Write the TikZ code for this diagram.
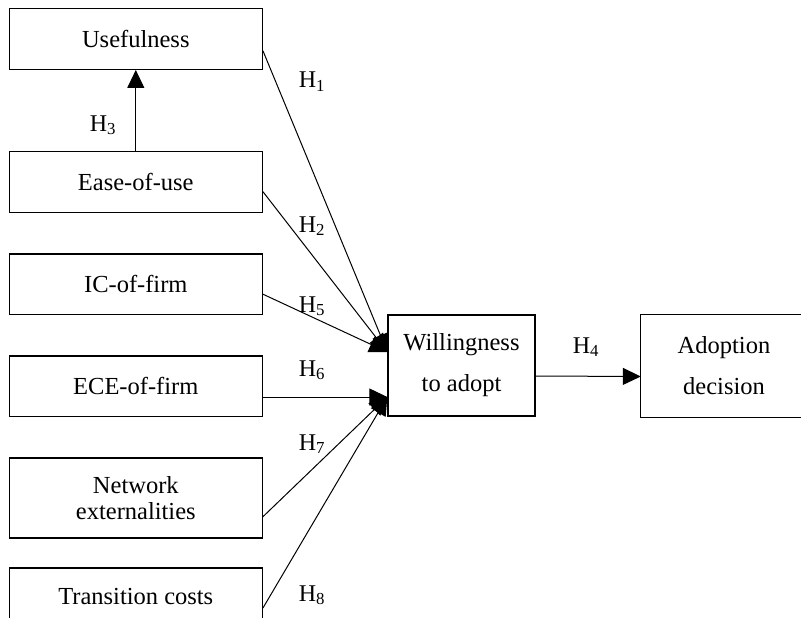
\documentclass[tikz,border=0pt]{standalone}
\usepackage{fontspec}
\setmainfont{Liberation Serif}
\usetikzlibrary{arrows.meta}
\tikzset{
  box/.style={draw, line width=1.3pt, minimum width=253pt, inner sep=0pt, align=center,
    font=\fontsize{24.5}{26}\selectfont},
  openbox/.style={line width=1.3pt},
  txt/.style={inner sep=0pt, align=center, font=\fontsize{24.5}{41}\selectfont},
  lbl/.style={anchor=base, inner sep=0pt, font=\fontsize{24}{26}\selectfont},
  arr/.style={line width=1pt, -{Triangle[length=18pt,width=17pt]}},
}
\begin{document}
\begin{tikzpicture}[x=1pt,y=-1pt]
\useasboundingbox (0,0) rectangle (801,618);
\clip (0,0) rectangle (801,618);
\fill[white] (0,0) rectangle (801,618);
% left column
\node[box, minimum height=61pt] (use) at (135.8,38.8) {Usefulness};
\node[box, minimum height=60.6pt] (ease) at (135.8,182) {Ease-of-use};
\node[box, minimum height=60.3pt] (ic) at (135.8,284.2) {IC-of-firm};
\node[box, minimum height=60.7pt] (ece) at (135.8,386.4) {ECE-of-firm};
\node[box, minimum height=80pt] (net) at (135.8,498) {Network\\externalities};
\node[box, minimum height=70pt] (tra) at (135.8,603) {\raisebox{14pt}{Transition costs}};
% right boxes
\node[box, minimum width=147pt, minimum height=101pt, font=\fontsize{24.5}{41}\selectfont] (wil) at (461.5,365.5) {Willingness\\to adopt};
\node[txt, minimum width=166pt, minimum height=102pt] (ado) at (724,366) {Adoption\\decision};
\draw[openbox] ([xshift=20pt]ado.north east) -- (ado.north west) -- (ado.south west) -- ([xshift=20pt]ado.south east);
% arrow targets
\coordinate (tipA) at ([yshift=13.5pt]wil.west);
\coordinate (tipB) at ([yshift=-31.5pt]wil.west);
% connectors
\draw[arr] (ease.north) -- (use.south);
\draw[arr] ([yshift=-12pt]use.east) -- (tipA);
\draw[arr] ([yshift=-9.7pt]ease.east) -- (tipA);
\draw[arr] ([yshift=-10pt]ic.east) -- (tipA);
\draw[arr] ([yshift=-10.6pt]ece.east) -- (tipB);
\draw[arr] ([yshift=-18.7pt]net.east) -- (tipB);
\draw[arr] ([yshift=-5pt]tra.east) -- (tipB);
\draw[arr] ([yshift=-10.5pt]wil.east) -- ([yshift=-10.5pt]ado.west);
% labels
\node[lbl] (h3) at (103,131) {H\textsubscript{3}};
\node[lbl] (h1) at (312,87.5) {H\textsubscript{1}};
\node[lbl] (h2) at (312,232) {H\textsubscript{2}};
\node[lbl] (h5) at (312,312) {H\textsubscript{5}};
\node[lbl] (h6) at (312,376) {H\textsubscript{6}};
\node[lbl] (h7) at (312,450) {H\textsubscript{7}};
\node[lbl] (h8) at (312,601) {H\textsubscript{8}};
\node[lbl] (h4) at (586,353) {H\textsubscript{4}};
\end{tikzpicture}
\end{document}
